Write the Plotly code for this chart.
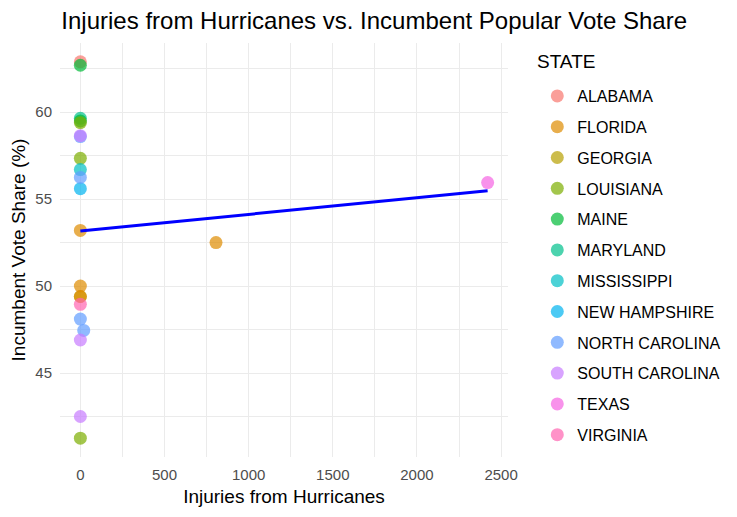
import plotly.graph_objects as go

states = ["ALABAMA", "FLORIDA", "GEORGIA", "LOUISIANA", "MAINE", "MARYLAND",
          "MISSISSIPPI", "NEW HAMPSHIRE", "NORTH CAROLINA", "SOUTH CAROLINA",
          "TEXAS", "VIRGINIA"]
colors = ["#F8766D", "#DE8C00", "#B79F00", "#7CAE00", "#00BA38", "#00C08B",
          "#00BFC4", "#00B4F0", "#619CFF", "#C77CFF", "#F564E3", "#FF64B0"]

injuries = {
    "ALABAMA": [0],
    "FLORIDA": [0, 0, 0, 806],
    "GEORGIA": [0],
    "LOUISIANA": [0, 0, 0],
    "MAINE": [0, 0],
    "MARYLAND": [0],
    "MISSISSIPPI": [0],
    "NEW HAMPSHIRE": [0],
    "NORTH CAROLINA": [0, 0, 0, 20],
    "SOUTH CAROLINA": [0, 0, 0],
    "TEXAS": [2420],
    "VIRGINIA": [0],
}
vote_share = {
    "ALABAMA": [62.9],
    "FLORIDA": [53.2, 50.0, 49.4, 52.5],
    "GEORGIA": [49.4],
    "LOUISIANA": [59.4, 57.35, 41.25],
    "MAINE": [62.7, 59.5],
    "MARYLAND": [59.65],
    "MISSISSIPPI": [56.7],
    "NEW HAMPSHIRE": [55.6],
    "NORTH CAROLINA": [58.6, 56.25, 48.1, 47.45],
    "SOUTH CAROLINA": [58.65, 46.9, 42.5],
    "TEXAS": [55.95],
    "VIRGINIA": [48.95],
}

# drawing order (bottom to top); legend order stays alphabetical
draw_order = ["MARYLAND", "ALABAMA", "GEORGIA", "FLORIDA", "MAINE", "LOUISIANA",
              "MISSISSIPPI", "NEW HAMPSHIRE", "NORTH CAROLINA", "SOUTH CAROLINA",
              "TEXAS", "VIRGINIA"]

# linear trend
trend_intercept = 53.17
trend_slope = 0.000955

x_ticks = [0, 500, 1000, 1500, 2000, 2500]
y_ticks = [45, 50, 55, 60]

fig = go.Figure()
for s in draw_order:
    i = states.index(s)
    fig.add_trace(go.Scatter(
        x=injuries[s], y=vote_share[s], mode="markers", name=s,
        legendgroup=s, legendrank=i + 1,
        marker=dict(color=colors[i], size=13, opacity=0.7, line=dict(width=0)),
    ))

all_x = [v for s in states for v in injuries[s]]
xmin, xmax = min(all_x), max(all_x)
fig.add_trace(go.Scatter(
    x=[xmin, xmax],
    y=[trend_intercept + trend_slope * xmin, trend_intercept + trend_slope * xmax],
    mode="lines", line=dict(color="#0000FF", width=3), showlegend=False,
    hoverinfo="skip",
))

grid = "#EBEBEB"
fig.update_layout(
    width=729, height=509,
    margin=dict(l=52, r=228, t=35, b=60),
    paper_bgcolor="white", plot_bgcolor="white",
    font=dict(family="Liberation Sans, Arial, sans-serif", color="black"),
    title=dict(text="Injuries from Hurricanes vs. Incumbent Popular Vote Share",
               x=0.003, xref="paper", xanchor="left", y=0.975, yanchor="middle",
               font=dict(size=24, color="black")),
    showlegend=True,
    legend=dict(
        font=dict(size=16, color="black"),
        x=1.063, xanchor="left", y=0.913, yanchor="top",
        traceorder="grouped", tracegroupgap=7, maxheight=480,
        bgcolor="rgba(0,0,0,0)",
    ),
    annotations=[dict(
        text="STATE", x=1.060, xref="paper", xanchor="left",
        y=0.9565, yref="paper", yanchor="middle", showarrow=False,
        font=dict(size=19, color="black"),
    )],
    xaxis=dict(
        range=[-121, 2541], tickvals=x_ticks, ticktext=[str(v) for v in x_ticks],
        showgrid=True, gridcolor=grid, gridwidth=1, zeroline=False,
        minor=dict(showgrid=True, gridcolor=grid, gridwidth=0.5, dtick=250, tick0=0),
        tickfont=dict(size=15, color="#4D4D4D"), ticks="", showline=False,
        ticklabelstandoff=7,
        automargin=False,
        title=dict(text="Injuries from Hurricanes", font=dict(size=19, color="black"),
                   standoff=7),
    ),
    yaxis=dict(
        range=[40.17, 63.98], tickvals=y_ticks, ticktext=[str(v) for v in y_ticks],
        showgrid=True, gridcolor=grid, gridwidth=1, zeroline=False,
        minor=dict(showgrid=True, gridcolor=grid, gridwidth=0.5, dtick=2.5, tick0=0),
        tickfont=dict(size=15, color="#4D4D4D"), ticks="", showline=False,
        ticklabelstandoff=7,
        automargin=False,
        title=dict(text="Incumbent Vote Share (%)", font=dict(size=19, color="black"),
                   standoff=4),
    ),
)

fig.write_html("out.html")
